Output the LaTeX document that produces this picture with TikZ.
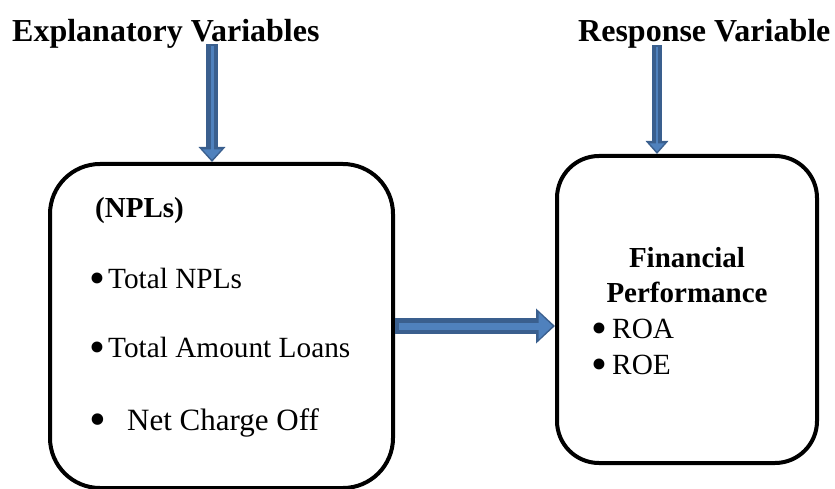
\documentclass[tikz,border=0pt]{standalone}
\usepackage{fontspec}
\setmainfont{Liberation Serif}
\usetikzlibrary{arrows.meta,calc}
\definecolor{adark}{HTML}{3A5F8E}
\definecolor{alight}{HTML}{4F81BD}
\newcommand\mybul[1]{\makebox[#1][l]{\smash{\raisebox{-5pt}{\scalebox{1.55}{\textbullet}}}}}
\begin{document}
\begin{tikzpicture}[x=1pt,y=-1pt,
  txt/.style={inner sep=0pt, anchor=base west, font=\fontsize{29.3}{35}\selectfont},
  btxt/.style={inner sep=0pt, anchor=base, font=\fontsize{29}{35}\selectfont\bfseries},
  ttl/.style={inner sep=0pt, anchor=base west, font=\fontsize{32}{38}\selectfont\bfseries},
  box/.style={draw=black, line width=4pt, rounded corners=#1, inner sep=0pt},
  outerarrow/.style={draw=adark, line width=#1},
  innerarrow/.style={draw=alight, line width=#1, shorten >=2.5pt, shorten <=2pt}
]
\useasboundingbox (0,0) rectangle (835,489);

% boxes
\node[box=50pt, minimum width=343pt, minimum height=324pt] (box1) at (221.5,326) {};
\node[box=42pt, minimum width=260pt, minimum height=307pt] (box2) at (687,309.5) {};

% titles
\node[ttl] (title1) at (12,42) {Explanatory Variables};
\node[ttl] (title2) at (578,42) {Response Variable};

% left box text
\node[txt, font=\fontsize{29}{35}\selectfont\bfseries] (npl) at (95,218) {(NPLs)};
\node[txt] (i1) at (89,288) {\mybul{19pt}Total NPLs};
\node[txt] (i2) at (89,357) {\mybul{19pt}Total Amount Loans};
\node[txt, font=\fontsize{31}{37}\selectfont] (i3) at (89,430) {\mybul{38pt}Net Charge Off};

% right box text
\node[btxt] (fin1) at (687,267) {Financial};
\node[btxt] (fin2) at (687,302) {Performance};
\node[txt] (r1) at (591,338) {\mybul{21pt}ROA};
\node[txt] (r2) at (591,374) {\mybul{21pt}ROE};

% arrow anchors
\coordinate (a1) at (212,44);
\coordinate (a2) at (657,45);

% vertical arrows
\draw[outerarrow=12pt, -{Triangle[width=26pt,length=15pt]}] (a1) -- (a1 |- box1.north);
\draw[innerarrow=3pt, -{Triangle[width=18pt,length=10pt]}] (a1) -- (a1 |- box1.north);
\draw[outerarrow=10pt, -{Triangle[width=22pt,length=13pt]}] (a2) -- (a2 |- box2.north);
\draw[innerarrow=2pt, -{Triangle[width=14pt,length=8pt]}] (a2) -- (a2 |- box2.north);

% horizontal arrow
\draw[outerarrow=16pt, -{Triangle[width=34pt,length=19pt]}] (box1.east) -- (box1.east -| box2.west);
\draw[innerarrow=7pt, shorten <=4pt, -{Triangle[width=26pt,length=14pt]}] (box1.east) -- (box1.east -| box2.west);
\end{tikzpicture}
\end{document}
